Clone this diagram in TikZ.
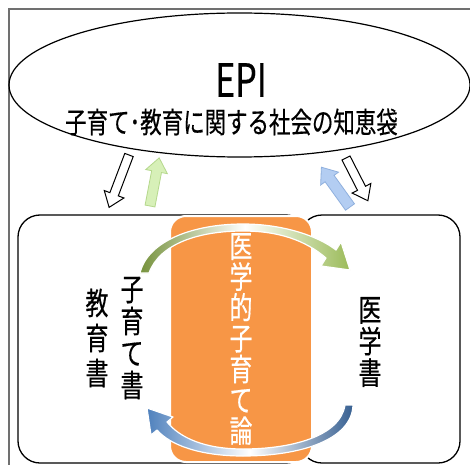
\documentclass[tikz,border=0pt]{standalone}
\usepackage{fontspec}
\usepackage{graphicx}
\setmainfont{Noto Sans CJK JP}
\newfontfamily\nar{Noto Sans CJK JP}[FakeStretch=0.74,FakeBold=0.4]
\usetikzlibrary{shapes.geometric}
\definecolor{orng}{HTML}{F79646}
\definecolor{gdark}{HTML}{76923C}
\definecolor{glight}{HTML}{9BBB59}
\definecolor{bdark}{HTML}{376092}
\definecolor{blight}{HTML}{4F81BD}
\definecolor{lgreen}{HTML}{D7F0B8}
\definecolor{lgreenb}{HTML}{B5D88C}
\definecolor{lblue}{HTML}{B3CDF2}
\definecolor{lblueb}{HTML}{8FB0DE}
\definecolor{framec}{HTML}{707070}
\newcommand\blockarrow[6]{%
  \begin{scope}[shift={#2}, rotate=#3]
    \path[#1] (0,-#5) -- ({#4-14},-#5) -- ({#4-14},-#6) -- (#4,0) -- ({#4-14},#6) -- ({#4-14},#5) -- (0,#5) -- cycle;
  \end{scope}}
\tikzset{
  bookbox/.style={draw=black, fill=white, line width=1.3pt, rounded corners=22pt, inner sep=0pt},
  orangebox/.style={draw=white, fill=orng, line width=2pt, rounded corners=16pt, inner sep=0pt},
  vtxt/.style={align=center, inner sep=0pt, font=\nar\fontsize{31}{32}\selectfont},
  whitearrow/.style={draw=black, fill=white, line width=1pt, line join=miter},
  greenarrow/.style={draw=lgreenb, fill=lgreen, line width=0.8pt, line join=miter},
  bluearrow/.style={draw=lblueb, fill=lblue, line width=0.8pt, line join=miter},
}
\begin{document}
\begin{tikzpicture}[x=1pt,y=-1pt]
\useasboundingbox (0,0) rectangle (470,465);
\fill[white] (0,0) rectangle (470,465);
% frame
\draw[framec, line width=1.3pt] (8,9) -- (470,9);
\draw[framec, line width=1.3pt] (9,9) -- (9,465);
% ellipse
\node[draw=black, line width=1.2pt, ellipse, minimum width=461pt, minimum height=144pt, inner sep=0pt] (cloud) at (239.5,85) {};
\node[inner sep=0pt, font=\nar\fontsize{46}{46}\selectfont] (epi) at (241,80) {EPI};
\node[inner sep=0pt, font=\nar\fontsize{29}{30}\selectfont] (sub) at (231.5,122) {子育て･教育に関する社会の知恵袋};
% block arrows
\coordinate (wl) at (129,155);
\coordinate (gl) at (150,206);
\coordinate (bl) at (350,207);
\coordinate (wr) at (346,158);
\blockarrow{whitearrow}{(wl)}{-110.8}{56}{4.5}{10.5}
\blockarrow{greenarrow}{(gl)}{79.2}{49}{5}{11}
\blockarrow{bluearrow}{(bl)}{125.7}{49}{5.5}{11}
\blockarrow{whitearrow}{(wr)}{-62.9}{48}{4.5}{10.5}
% boxes
\node[bookbox, minimum width=290pt, minimum height=248pt] (leftbox) at (163,339) {};
\node[bookbox, minimum width=160pt, minimum height=248pt] (rightbox) at (380,339) {};
\node[orangebox, minimum width=142pt, minimum height=246pt] (core) at (241,339) {};
% curved arrows
\shadedraw[left color=gdark, right color=glight, middle color=white, draw=white, line width=1.2pt, line join=round]
  (140,273) .. controls (148,240) and (195,224) .. (243,224)
  .. controls (283,224) and (318,236) .. (336,250)
  -- (341,242) -- (350,270) -- (321,266) -- (326,258)
  .. controls (305,240) and (278,231) .. (243,231)
  .. controls (200,231) and (160,243) .. (149,273) -- cycle;
\shadedraw[left color=blight, right color=bdark, middle color=white, draw=white, line width=1.2pt, line join=round]
  (353,405) .. controls (352,440) and (300,456) .. (243,456)
  .. controls (200,456) and (170,445) .. (157,430)
  -- (151,435) -- (147,408) -- (173,417) -- (167,422)
  .. controls (180,438) and (205,449) .. (243,449)
  .. controls (290,449) and (340,437) .. (345,405) -- cycle;
% texts
\node[vtxt, font=\nar\fontsize{31}{30.8}\selectfont, text=white] (med) at (241,339) {医\\学\\的\\子\\育\\て\\論};
\node[vtxt] (kosodate) at (132,338) {子\\育\\て\\書};
\node[vtxt, font=\nar\fontsize{31}{35}\selectfont] (kyoiku) at (97,338) {教\\育\\書};
\node[vtxt, font=\nar\fontsize{31}{31.5}\selectfont] (igaku) at (370,342) {医\\学\\書};
\end{tikzpicture}
\end{document}
